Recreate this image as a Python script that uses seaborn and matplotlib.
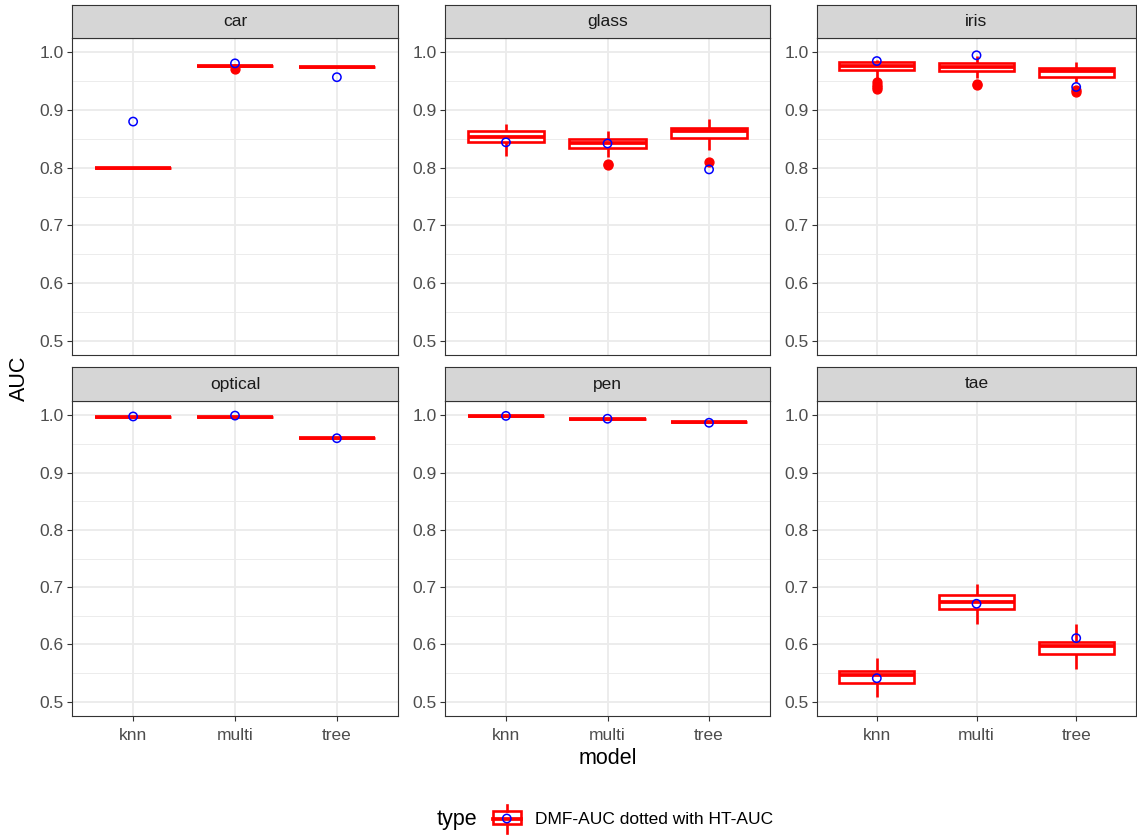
import numpy as np
import pandas as pd
import matplotlib
matplotlib.use("Agg")
import matplotlib.pyplot as plt
from matplotlib.patches import Rectangle
import seaborn as sns

# ---------------------------------------------------------------------------
# Data: AUC distributions (box summaries) per dataset and model, plus the
# single HT-AUC value shown as an open circle.
# ---------------------------------------------------------------------------
datasets = ["car", "glass", "iris", "optical", "pen", "tae"]
models = ["knn", "multi", "tree"]

whisker_low = [
    [0.799, 0.977, 0.974],   # car
    [0.820, 0.819, 0.830],   # glass
    [0.953, 0.955, 0.949],   # iris
    [0.997, 0.997, 0.961],   # optical
    [0.999, 0.994, 0.988],   # pen
    [0.509, 0.636, 0.557],   # tae
]
lower_quartile = [
    [0.799, 0.977, 0.974],
    [0.845, 0.834, 0.851],
    [0.970, 0.968, 0.958],
    [0.997, 0.997, 0.961],
    [0.999, 0.994, 0.988],
    [0.533, 0.661, 0.583],
]
median = [
    [0.799, 0.977, 0.974],
    [0.854, 0.842, 0.864],
    [0.977, 0.975, 0.967],
    [0.997, 0.997, 0.961],
    [0.999, 0.994, 0.988],
    [0.547, 0.674, 0.597],
]
upper_quartile = [
    [0.799, 0.977, 0.974],
    [0.863, 0.850, 0.869],
    [0.983, 0.982, 0.973],
    [0.997, 0.997, 0.961],
    [0.999, 0.994, 0.988],
    [0.554, 0.6855, 0.605],
]
whisker_high = [
    [0.799, 0.977, 0.974],
    [0.875, 0.863, 0.885],
    [0.987, 0.994, 0.984],
    [0.997, 0.997, 0.961],
    [0.999, 0.994, 0.988],
    [0.576, 0.705, 0.635],
]
outliers = [
    [[], [0.971], []],
    [[], [0.807, 0.804], [0.810]],
    [[0.948, 0.944, 0.940, 0.936], [0.946, 0.944], [0.934, 0.931]],
    [[], [], []],
    [[], [], []],
    [[], [], []],
]
ht_auc = [
    [0.880, 0.981, 0.957],
    [0.844, 0.842, 0.797],
    [0.985, 0.995, 0.940],
    [0.998, 0.9995, 0.960],
    [0.999, 0.994, 0.987],
    [0.541, 0.671, 0.611],
]
y_ticks = [0.5, 0.6, 0.7, 0.8, 0.9, 1.0]
y_minor = [0.55, 0.65, 0.75, 0.85, 0.95]


def box_sample(lo, q1, med, q3, hi, extra):
    """Sample of 4m+1 values whose quartiles, whiskers and fliers equal the
    given summary (linear-interpolated percentiles land on indices m, 2m, 3m)."""
    low_out = sorted(v for v in extra if v < q1)
    high_out = sorted(v for v in extra if v > q3)
    m = max(len(low_out), len(high_out)) + 2
    below = low_out + [lo]
    below = below + [q1] * (m - len(below))
    above = [hi] + high_out
    above = [q3] * (m - len(above)) + above
    return below + [q1] + [med] * (2 * m - 1) + [q3] + above


rows = []
for di, ds in enumerate(datasets):
    for mi, mod in enumerate(models):
        vals = box_sample(whisker_low[di][mi], lower_quartile[di][mi],
                          median[di][mi], upper_quartile[di][mi],
                          whisker_high[di][mi], outliers[di][mi])
        rows += [{"dataset": ds, "model": mod, "AUC": v} for v in vals]
auc = pd.DataFrame(rows)
ht = pd.DataFrame({
    "dataset": np.repeat(datasets, len(models)),
    "model": models * len(datasets),
    "pos": list(range(len(models))) * len(datasets),
    "AUC": np.ravel(ht_auc),
})

# ---------------------------------------------------------------------------
# Figure layout (pixel geometry of a 3x2 facet grid)
# ---------------------------------------------------------------------------
W, H = 1137, 836
plt.rcParams["font.family"] = ["Liberation Sans", "DejaVu Sans"]
fig = plt.figure(figsize=(W / 100, H / 100), dpi=100)
fig.patch.set_facecolor("white")


def rect(x0, x1, y0, y1):
    return [x0 / W, 1 - y1 / H, (x1 - x0) / W, (y1 - y0) / H]


col_x = [(72, 398), (445, 770), (817, 1136)]
row_y = [(38, 355), (401, 716)]
strip_y = [(5, 38), (367, 401)]

GRID = "#EBEBEB"
DARK = "#333333"
TICK_TXT = "#4D4D4D"
BOX_LW = 1.9
MED_LW = 2.7

for k, ds in enumerate(datasets):
    r, c = divmod(k, 3)
    ax = fig.add_axes(rect(*col_x[c], *row_y[r]))
    sub = auc[auc["dataset"] == ds]
    sns.boxplot(data=sub, x="model", y="AUC", order=models, ax=ax,
                color="white", linecolor="red", linewidth=BOX_LW, width=0.75,
                saturation=1, showcaps=False,
                medianprops=dict(linewidth=MED_LW, color="red"),
                flierprops=dict(marker="o", markerfacecolor="red",
                                markeredgecolor="red", markersize=6.4))
    hsub = ht[ht["dataset"] == ds]
    sns.scatterplot(data=hsub, x="pos", y="AUC", ax=ax, marker="o",
                    s=36, color="blue", facecolor="none", edgecolor="blue",
                    linewidth=1.1, zorder=5, legend=False)

    ax.set_xlim(-0.6, 2.6)
    ax.set_ylim(0.475, 1.025)
    ax.set_xticks(range(len(models)))
    ax.set_xticklabels(models)
    ax.set_yticks(y_ticks)
    ax.set_yticklabels([f"{t:.1f}" for t in y_ticks])
    ax.set_yticks(y_minor, minor=True)
    ax.set_xlabel("")
    ax.set_ylabel("")
    ax.set_axisbelow(True)
    ax.grid(which="major", color=GRID, linewidth=1.3)
    ax.grid(which="minor", axis="y", color=GRID, linewidth=0.65)
    ax.set_facecolor("white")
    for sp in ax.spines.values():
        sp.set_visible(True)
        sp.set_color(DARK)
        sp.set_linewidth(0.8)
    ax.tick_params(axis="both", which="major", length=3.3, width=0.8,
                   color=DARK, labelcolor=TICK_TXT, labelsize=12.5, pad=2.5)
    ax.tick_params(axis="x", which="major", pad=5)
    ax.tick_params(axis="both", which="minor", length=0)
    if r == 0:
        ax.tick_params(axis="x", which="major", length=0, labelbottom=False)

    # facet strip
    sax = fig.add_axes(rect(*col_x[c], *strip_y[r]))
    sax.set_facecolor("#D6D6D6")
    sax.set_xticks([])
    sax.set_yticks([])
    for sp in sax.spines.values():
        sp.set_color(DARK)
        sp.set_linewidth(0.8)
    sax.text(0.5, 0.5, ds, ha="center", va="center", fontsize=12.5,
             color="#1A1A1A", transform=sax.transAxes)

# axis titles
fig.text(19 / W, 1 - 378 / H, "AUC", rotation=90, ha="center", va="center",
         fontsize=15.5, color="black")
fig.text(607.5 / W, 1 - 759 / H, "model", ha="center", va="center",
         fontsize=15.5, color="black")

# legend
fig.text(437 / W, 1 - 820 / H, "type", ha="left", va="center",
         fontsize=15.5, color="black")
kax = fig.add_axes(rect(488, 526, 803, 835))
kax.set_xlim(488, 526)
kax.set_ylim(835, 803)
kax.axis("off")
kx = 506.8
kax.add_patch(Rectangle((493, 811), 27.7, 13.3, facecolor="white",
                        edgecolor="red", linewidth=BOX_LW))
kax.plot([kx, kx], [805, 811], color="red", lw=BOX_LW)
kax.plot([kx, kx], [824.3, 833], color="red", lw=BOX_LW)
kax.plot([493, 520.7], [818.5, 818.5], color="red", lw=MED_LW)
kax.scatter([kx], [818.5], s=36, facecolor="none", edgecolor="blue",
            linewidth=1.1, zorder=5)
fig.text(535 / W, 1 - 820 / H, "DMF-AUC dotted with HT-AUC", ha="left",
         va="center", fontsize=12.5, color="black")

fig.savefig("out.png", dpi=100, facecolor="white")
